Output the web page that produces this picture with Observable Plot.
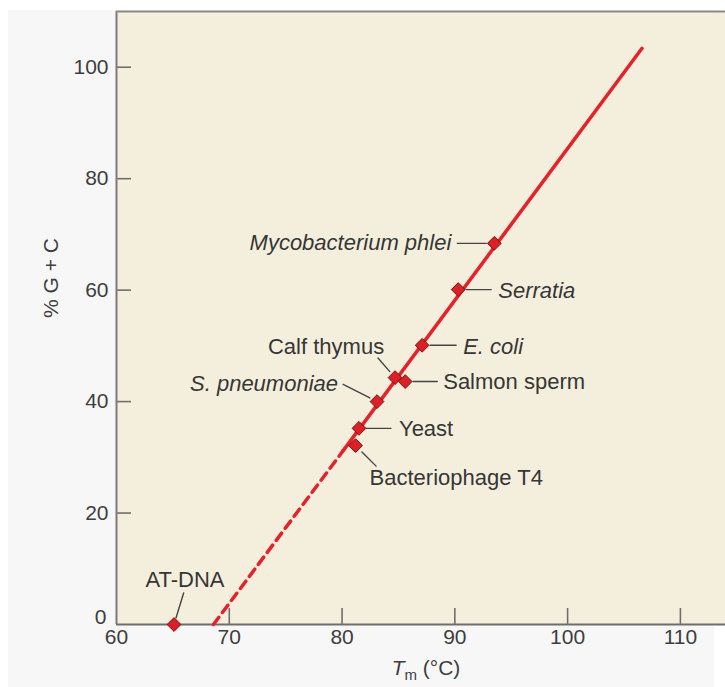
<!DOCTYPE html>
<html>
<head>
<meta charset="utf-8">
<script src="https://cdn.jsdelivr.net/npm/d3@7"></script>
<script src="https://cdn.jsdelivr.net/npm/@observablehq/plot@0.6"></script>
<style>
  html, body { margin: 0; padding: 0; background: #ffffff; }
  #bg { position: absolute; left: 8px; top: 10px; width: 706px; height: 677px; background: #f7f7f7; }
  #chart { position: absolute; left: 0; top: 0; }
  #chart svg { overflow: visible; }
</style>
</head>
<body>
<div id="bg"></div>
<div id="chart"></div>
<script>
// ---- data ----
const species = ["Mycobacterium phlei", "Serratia", "E. coli", "Calf thymus", "Salmon sperm", "S. pneumoniae", "Yeast", "Bacteriophage T4", "AT-DNA"];
const tm      = [93.5, 90.3, 87.1, 84.7, 85.6, 83.1, 81.5, 81.2, 65.1];
const gc      = [68.4, 60.1, 50.1, 44.3, 43.6, 40.0, 35.2, 32.1, 0];
const italicName = [true, true, true, false, false, true, false, false, false];

// fitted line: dashed extrapolation then solid
const lineTm = [68.6, 80.1, 106.6];
const lineGC = [0, 31.2, 103.4];

const xTicks = [60, 70, 80, 90, 100, 110];
const yTicks = [0, 20, 40, 60, 80, 100];
const xLabel = "Tm (°C)";
const yLabel = "% G + C";

// ---- label layout (pixels): text offset, anchor, leader angle / start / end ----
const layout = {
  "Mycobacterium phlei": {dx: -43, dy: 0,   anchor: "end",    rot: 270, s: 8, e: 37},
  "Serratia":            {dx: 40,  dy: 1,   anchor: "start",  rot: 90,  s: 8, e: 33},
  "E. coli":             {dx: 41,  dy: 2,   anchor: "start",  rot: 90,  s: 8, e: 34},
  "Calf thymus":         {dx: -69, dy: -31, anchor: "middle", rot: 319, s: 8, e: 26},
  "Salmon sperm":        {dx: 38,  dy: 0,   anchor: "start",  rot: 90,  s: 8, e: 32},
  "S. pneumoniae":       {dx: -39, dy: -18, anchor: "end",    rot: 297, s: 8, e: 38},
  "Yeast":               {dx: 40,  dy: 1,   anchor: "start",  rot: 90,  s: 7, e: 32},
  "Bacteriophage T4":    {dx: 14,  dy: 32,  anchor: "start",  rot: 135, s: 9, e: 29},
  "AT-DNA":              {dx: 11,  dy: -45, anchor: "middle", rot: 17,  s: 7, e: 33}
};

const points = species.map((name, i) => ({name, tm: tm[i], gc: gc[i], italic: italicName[i], ...layout[name]}));
const lineData = lineTm.map((t, i) => ({tm: t, gc: lineGC[i]}));
const dashedPart = lineData.slice(0, 2);
const solidPart = lineData.slice(1);

const red = "#e8202a";
const textColor = "#3e3e3e";
const font = "'Liberation Sans', Arial, Helvetica, sans-serif";

function leaderMarks(data) {
  return data.map(d => Plot.vector([d], {
    x: "tm", y: "gc", rotate: d.rot, length: d.e, anchor: "start",
    stroke: "#444444", strokeWidth: 1.4,
    shape: { draw(context, l) { context.moveTo(0, -d.s); context.lineTo(0, -l); } }
  }));
}

const chart = Plot.plot({
  width: 725,
  height: 687,
  marginLeft: 116,
  marginRight: 0,
  marginTop: 11,
  marginBottom: 63,
  style: {background: "transparent", fontFamily: font, overflow: "visible"},
  x: {domain: [60, 114], label: null},
  y: {domain: [0, 110], label: null},
  marks: [
    Plot.frame({fill: "#f4efdc", stroke: null}),
    // inward ticks
    Plot.tickY(yTicks.slice(1), {y: d => d, stroke: "#6e6e6e", strokeWidth: 1.6, insetRight: 594}),
    Plot.tickX(xTicks.slice(1), {x: d => d, stroke: "#6e6e6e", strokeWidth: 1.6, insetTop: 597}),
    // axis lines
    Plot.ruleX([60], {stroke: "#7a7a7a", strokeWidth: 2}),
    Plot.ruleY([0], {stroke: "#6e6e6e", strokeWidth: 2}),
    Plot.ruleY([110], {stroke: "#8a8a8a", strokeWidth: 2}),
    // tick labels
    Plot.axisY(yTicks.slice(1), {tickSize: 0, tickPadding: 8, fontSize: 21, fill: textColor, label: null}),
    Plot.axisY([yTicks[0]], {tickSize: 0, tickPadding: 10, dy: -7, fontSize: 21, fill: textColor, label: null}),
    Plot.axisX(xTicks, {tickSize: 0, tickPadding: 5, fontSize: 21, fill: textColor, label: null}),
    // fitted line
    Plot.line(dashedPart, {x: "tm", y: "gc", stroke: red, strokeWidth: 3.5, strokeDasharray: "9,6"}),
    Plot.line(solidPart, {x: "tm", y: "gc", stroke: red, strokeWidth: 3.5}),
    // leader lines
    ...leaderMarks(points),
    // data points
    Plot.dot(points, {x: "tm", y: "gc", symbol: "diamond2", r: 6.2, fill: "#dd1f26", stroke: "#7a1212", strokeWidth: 1}),
    // labels
    ...points.map(d => Plot.text([d], {
      x: "tm", y: "gc", text: "name", dx: d.dx, dy: d.dy, textAnchor: d.anchor,
      fontSize: 22, fill: "#363636", fontStyle: d.italic ? "italic" : "normal"
    })),
    // axis titles
    Plot.text([yLabel], {frameAnchor: "left", dx: -65, dy: 0, rotate: -90, fontSize: 21, fill: textColor}),
    Plot.text([xLabel], {frameAnchor: "bottom", dx: 5, dy: 50, fontSize: 21, fill: textColor, className: "xlabel"})
  ]
});

document.getElementById("chart").appendChild(chart);

// Style the x-axis title: italic T with subscript m
const xl = d3.select(chart).select(".xlabel text");
if (!xl.empty()) {
  xl.text(null);
  xl.append("tspan").attr("font-style", "italic").text("T");
  xl.append("tspan").attr("font-size", "15").attr("dy", "5").text("m");
  xl.append("tspan").attr("dy", "-5").text(" (°C)");
}
</script>
</body>
</html>
